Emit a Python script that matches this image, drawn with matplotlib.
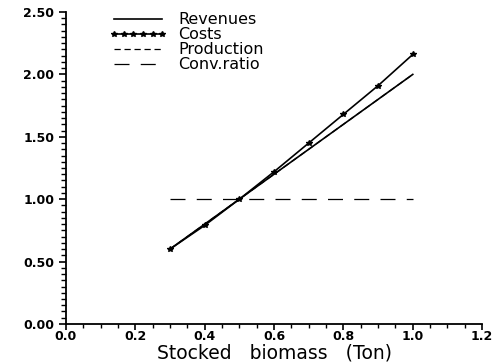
import numpy as np
import matplotlib.pyplot as plt
from matplotlib.ticker import MultipleLocator, FormatStrFormatter

# stocked biomass (ton) and the economics at each level
biomass = [0.3, 0.4, 0.5, 0.6, 0.7, 0.8, 0.9, 1.0]
revenues = [0.60, 0.80, 1.00, 1.20, 1.40, 1.60, 1.80, 2.00]
costs = [0.60, 0.79, 1.00, 1.22, 1.45, 1.68, 1.91, 2.16]
production = [0.60, 0.80, 1.00, 1.20, 1.40, 1.60, 1.80, 2.00]
conv_ratio = [1.00, 1.00, 1.00, 1.00, 1.00, 1.00, 1.00, 1.00]

fig = plt.figure(figsize=(4.92, 3.64), dpi=100)
ax = fig.add_axes([0.134, 0.110, 0.846, 0.857])

ax.plot(biomass, revenues, color='black', lw=1.2, label='Revenues')
ax.plot(biomass, costs, color='black', lw=1.2, marker='*', ms=4, label='Costs')
ax.plot(biomass, production, color='black', lw=0.9, ls=(0, (5, 3)), label='Production')
ax.plot(biomass, conv_ratio, color='black', lw=0.9, ls=(0, (12, 9)), label='Conv.ratio')

ax.set_xlim(0, 1.2)
ax.set_ylim(0, 2.5)
ax.xaxis.set_major_locator(MultipleLocator(0.2))
ax.xaxis.set_minor_locator(MultipleLocator(0.05))
ax.yaxis.set_major_locator(MultipleLocator(0.5))
ax.yaxis.set_minor_locator(MultipleLocator(0.05))
ax.xaxis.set_major_formatter(FormatStrFormatter('%.1f'))
ax.yaxis.set_major_formatter(FormatStrFormatter('%.2f'))
ax.tick_params(which='major', length=5, width=1.2, direction='out', labelsize=9)
ax.tick_params(which='minor', length=3.5, width=1.0, direction='out')
ax.tick_params(axis='x', which='major', length=4, pad=0)
ax.tick_params(axis='x', which='minor', length=3)
for lab in ax.get_xticklabels() + ax.get_yticklabels():
    lab.set_fontweight('bold')

for side in ('top', 'right'):
    ax.spines[side].set_visible(False)
for side in ('left', 'bottom'):
    ax.spines[side].set_linewidth(1.3)

ax.set_xlabel('Stocked   biomass   (Ton)', fontsize=13.5, labelpad=1)

ax.legend(loc='upper left', bbox_to_anchor=(0.07, 1.045), frameon=False,
          fontsize=11.5, handlelength=3.6, handletextpad=0.7, labelspacing=0.0,
          numpoints=6)

fig.savefig('out.png', dpi=100)
